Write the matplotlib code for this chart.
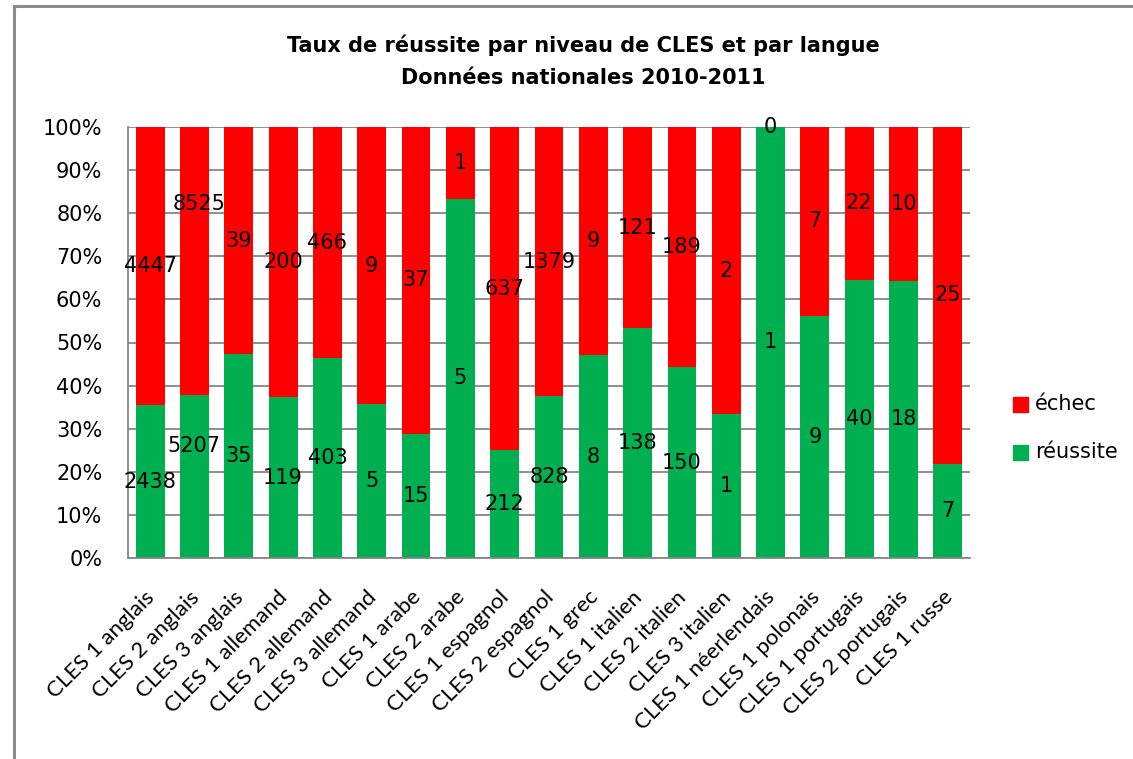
import matplotlib
matplotlib.use("Agg")
import matplotlib.pyplot as plt
from matplotlib.patches import Rectangle
import numpy as np

categories = ["CLES 1 anglais", "CLES 2 anglais", "CLES 3 anglais", "CLES 1 allemand",
              "CLES 2 allemand", "CLES 3 allemand", "CLES 1 arabe", "CLES 2 arabe",
              "CLES 1 espagnol", "CLES 2 espagnol", "CLES 1 grec", "CLES 1 italien",
              "CLES 2 italien", "CLES 3 italien", "CLES 1 néerlendais", "CLES 1 polonais",
              "CLES 1 portugais", "CLES 2 portugais", "CLES 1 russe"]
reussite = [2438, 5207, 35, 119, 403, 5, 15, 5, 212, 828, 8, 138, 150, 1, 1, 9, 40, 18, 7]
echec = [4447, 8525, 39, 200, 466, 9, 37, 1, 637, 1379, 9, 121, 189, 2, 0, 7, 22, 10, 25]
yticks = [0, 10, 20, 30, 40, 50, 60, 70, 80, 90, 100]

# manual label displacements (index -> (dx, y_percent)) as in the original chart
label_moves_echec = {1: (0.11, 82.2)}
label_moves_reussite = {1: (-0.02, 25.9)}

RED = "#FF0000"
GREEN = "#00B050"
GRID = "#868686"

fig = plt.figure(figsize=(11.33, 7.59), dpi=100)
ax = fig.add_axes([128/1133, 1-558/759, (970-128)/1133, (558-127)/759])

x = np.arange(len(categories))
tot = np.array(reussite, float) + np.array(echec, float)
pr = np.array(reussite) / tot * 100
pe = np.array(echec) / tot * 100

ax.bar(x, pr, width=0.65, color=GREEN, zorder=2, label="réussite")
ax.bar(x, pe, width=0.65, bottom=pr, color=RED, zorder=2, label="échec")

lab_kw = dict(ha="center", va="center", fontsize=15, color="black", zorder=3,
              family="DejaVu Sans")
for i in range(len(categories)):
    dx, yy = label_moves_reussite.get(i, (0, pr[i] / 2))
    ax.text(x[i] + dx, yy, str(reussite[i]), **lab_kw)
    dx, yy = label_moves_echec.get(i, (0, pr[i] + pe[i] / 2))
    if echec[i] == 0:
        yy = 100
    ax.text(x[i] + dx, yy, str(echec[i]), **lab_kw)

ax.set_xlim(-0.5, len(categories) - 0.5)
ax.set_ylim(0, 100)
ax.set_yticks(yticks)
ax.set_yticklabels([f"{v}%" for v in yticks], fontsize=15, family="DejaVu Sans")
ax.yaxis.grid(True, color=GRID, linewidth=1.3, zorder=1)
ax.set_axisbelow(True)
ax.tick_params(axis="y", length=0, pad=18.5)
ax.tick_params(axis="x", length=0, pad=25)
ax.set_xticks(x)
ax.set_xticklabels(categories, rotation=45, ha="right", va="center_baseline",
                   rotation_mode="anchor", fontsize=16, family="Lato")
for s in ["top", "right"]:
    ax.spines[s].set_visible(False)
for s in ["left", "bottom"]:
    ax.spines[s].set_color(GRID)
    ax.spines[s].set_linewidth(1.3)

fig.text(583/1133, 1-45/759, "Taux de réussite par niveau de CLES et par langue",
         ha="center", va="center", fontsize=15, fontweight="bold", family="DejaVu Sans")
fig.text(583/1133, 1-78/759, "Données nationales 2010-2011",
         ha="center", va="center", fontsize=15, fontweight="bold", family="DejaVu Sans")

# legend
for yy, col, txt in [(404, RED, "échec"), (452, GREEN, "réussite")]:
    fig.patches.append(Rectangle((1013/1133, 1-(yy+8)/759), 15/1133, 15/759,
                                 transform=fig.transFigure, color=col))
    fig.text(1035/1133, 1-yy/759, txt, ha="left", va="center", fontsize=15,
             family="DejaVu Sans")

# outer frame
fig.lines.append(plt.Line2D([14/1133, 14/1133], [0, 1-6/759], transform=fig.transFigure,
                            color="#8C8C8C", linewidth=2.2))
fig.lines.append(plt.Line2D([14/1133, 1], [1-6/759, 1-6/759], transform=fig.transFigure,
                            color="#8C8C8C", linewidth=2.2))

fig.savefig("out.png", dpi=100)
